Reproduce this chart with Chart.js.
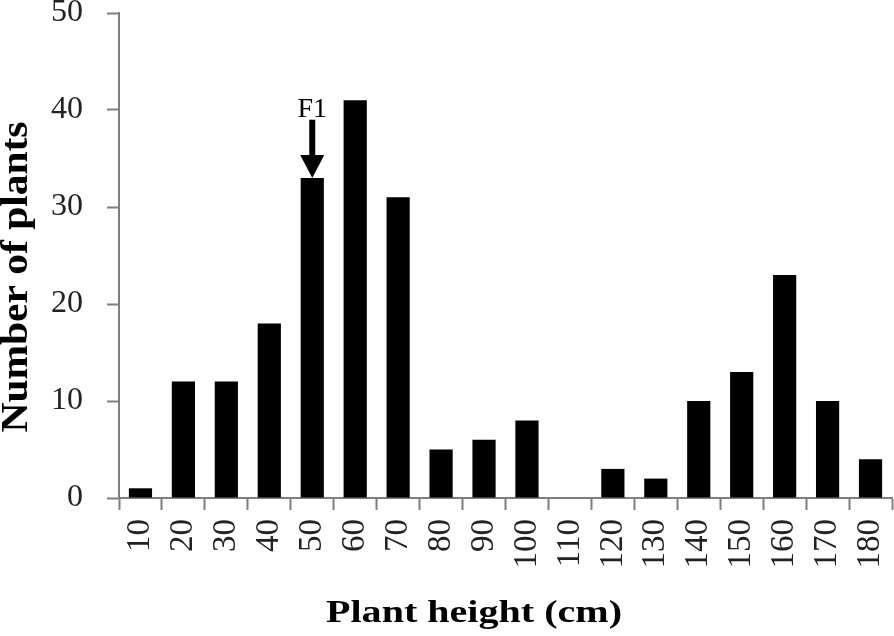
<!DOCTYPE html>
<html>
<head>
<meta charset="utf-8">
<script src="https://cdn.jsdelivr.net/npm/chart.js@4/dist/chart.umd.min.js"></script>
<style>
  html, body { margin: 0; padding: 0; background: #fff; }
  #wrap { width: 894px; height: 636px; position: relative; }
</style>
</head>
<body>
<div id="wrap"><canvas id="c"></canvas></div>
<script>
// ===== Data =====
var heights = ['10', '20', '30', '40', '50', '60', '70', '80', '90', '100',
               '110', '120', '130', '140', '150', '160', '170', '180'];
var plants  = [1, 12, 12, 18, 33, 41, 31, 5, 6, 8, 0, 3, 2, 10, 13, 23, 10, 4];
var yTicks  = [0, 10, 20, 30, 40, 50];
// F1 marker: category and the value range of its arrow
var f1Label = '50';
var f1Arrow = [39, 33];

var xTitle = 'Plant height (cm)';
var yTitle = 'Number of plants';

var axisGray = '#7f7f7f';
var serif = "'Liberation Serif', 'Times New Roman', serif";

// arrow + "F1" text, placed through the chart scales
var f1Marker = {
  id: 'f1Marker',
  afterDatasetsDraw: function(chart) {
    var xs = chart.scales.x, ys = chart.scales.y;
    var ctx = chart.ctx;
    var x = xs.getPixelForValue(heights.indexOf(f1Label));
    var yTail = ys.getPixelForValue(f1Arrow[0]);
    var yTip  = ys.getPixelForValue(f1Arrow[1]);
    ctx.save();
    ctx.fillStyle = '#000';
    ctx.fillRect(x - 3, yTail, 6, (yTip - yTail) - 22);
    ctx.beginPath();
    ctx.moveTo(x - 12, yTip - 23);
    ctx.lineTo(x + 12, yTip - 23);
    ctx.lineTo(x, yTip);
    ctx.closePath();
    ctx.fill();
    ctx.font = '28px ' + serif;
    ctx.textAlign = 'center';
    ctx.textBaseline = 'alphabetic';
    ctx.fillText('F1', x, yTail - 3);
    ctx.restore();
  }
};

// axis titles: the source has them stretched a bit wider than the font
function stretchedText(ctx, text, size, len) {
  ctx.font = 'bold ' + size + 'px ' + serif;
  var w = ctx.measureText(text).width;
  ctx.scale(len / w, 1);
  ctx.fillText(text, 0, 0);
}
var axisTitles = {
  id: 'axisTitles',
  afterDraw: function(chart) {
    var ctx = chart.ctx;
    ctx.save();
    ctx.fillStyle = '#000';
    ctx.textAlign = 'center';
    ctx.textBaseline = 'alphabetic';
    ctx.save();
    ctx.translate(474, 622);
    stretchedText(ctx, xTitle, 31, 296);
    ctx.restore();
    ctx.save();
    ctx.translate(27, 277);
    ctx.rotate(-Math.PI / 2);
    stretchedText(ctx, yTitle, 37, 311);
    ctx.restore();
    ctx.restore();
  }
};

// keep the plot box where the reference has it
function noPad(s) {
  s.paddingTop = 0; s.paddingBottom = 0; s.paddingLeft = 0; s.paddingRight = 0;
}

new Chart(document.getElementById('c'), {
  type: 'bar',
  data: {
    labels: heights,
    datasets: [{
      data: plants,
      backgroundColor: '#000',
      borderWidth: 0,
      categoryPercentage: 1,
      barPercentage: 0.54
    }]
  },
  options: {
    responsive: true,
    maintainAspectRatio: false,
    animation: false,
    layout: { padding: { top: 13, right: 2, left: 0, bottom: 0 } },
    plugins: { legend: { display: false }, tooltip: { enabled: false } },
    scales: {
      x: {
        offset: true,
        grid: {
          offset: true,
          drawOnChartArea: false,
          drawTicks: true,
          tickLength: 12,
          tickColor: axisGray,
          tickWidth: 2
        },
        border: { color: axisGray, width: 2 },
        ticks: {
          minRotation: 90,
          maxRotation: 90,
          padding: 9,
          color: '#222',
          font: { family: serif, size: 33 }
        },
        afterFit: function(s) { s.height = 636 - 498; noPad(s); }
      },
      y: {
        min: 0,
        max: 50,
        afterBuildTicks: function(s) {
          s.ticks = yTicks.map(function(v) { return { value: v }; });
        },
        grid: {
          drawOnChartArea: false,
          tickLength: 12,
          tickColor: axisGray,
          tickWidth: 2
        },
        border: { color: axisGray, width: 2 },
        ticks: {
          padding: 24,
          color: '#222',
          font: { family: serif, size: 32 }
        },
        afterFit: function(s) { s.width = 119; noPad(s); }
      }
    }
  },
  plugins: [f1Marker, axisTitles]
});
</script>
</body>
</html>
